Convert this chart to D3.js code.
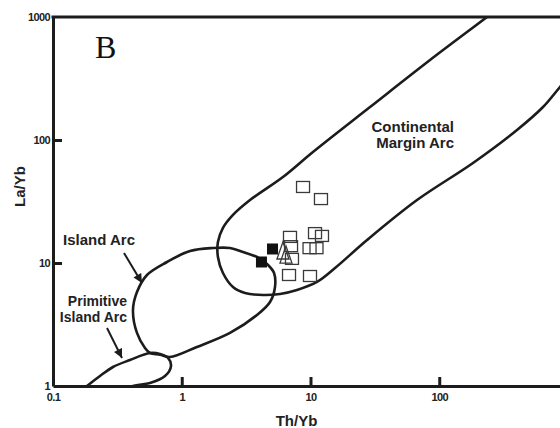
<!DOCTYPE html>
<html>
<head>
<meta charset="utf-8">
<script src="https://cdn.jsdelivr.net/npm/d3@7/dist/d3.min.js"></script>
<style>
  html, body { margin: 0; padding: 0; background: #fff; }
  svg { display: block; }
  text { font-family: "Liberation Sans", Arial, Helvetica, sans-serif; }
</style>
</head>
<body>
<svg id="chart" width="560" height="428"></svg>
<script>
// ---------------- data ----------------
const xTicks = [0.1, 1, 10, 100];
const xTickLabels = ["0.1", "1", "10", "100"];
const yTicks = [1, 10, 100, 1000];
const yTickLabels = ["1", "10", "100", "1000"];

// sample points (Th/Yb, La/Yb)
const openSquares = [
  [8.75, 41.5], [12.06, 33.1], [6.93, 16.3], [7.06, 13.7], [7.18, 10.8],
  [10.84, 17.5], [12.28, 16.6], [9.83, 13.2], [11.13, 13.2],
  [6.81, 7.99], [9.91, 7.84]
];
const filledSquares = [[5.07, 13.0], [4.16, 10.19]];
const openTriangles = [[6.11, 12.52], [6.45, 11.6]];

// field boundaries (Th/Yb, La/Yb)
const continentalArc = [
  [296.5, 1206], [235, 1000], [84.8, 447], [29.0, 185.4], [10.45, 79.9],
  [6.11, 50.0], [3.39, 32.5], [2.50, 24.6], [2.09, 19.3], [1.91, 14.8],
  [1.91, 11.19], [2.09, 8.29], [2.50, 6.38], [3.10, 5.70], [4.28, 5.49],
  [5.80, 5.60], [7.85, 6.03], [11.23, 7.01], [15.5, 9.10], [27.5, 15.38],
  [67.2, 32.5], [182.9, 65.0], [401.7, 120.5], [639.7, 185.4], [866.7, 269.8],
  [1133, 370.7]
];
const islandArc = [
  [0.418, 4.15], [0.449, 5.81], [0.537, 7.99], [0.768, 10.19], [1.16, 12.52],
  [1.75, 13.24], [2.37, 13.24], [2.99, 12.29], [3.84, 11.19], [4.68, 9.63],
  [5.21, 8.29], [5.30, 6.38], [4.85, 4.82], [3.84, 3.78], [2.37, 2.70],
  [1.31, 2.075], [0.81, 1.72], [0.678, 1.80], [0.567, 1.855], [0.518, 2.04],
  [0.449, 2.70]
];
const primitiveArc = [
  [0.162, 0.894], [0.1837, 1], [0.2317, 1.206], [0.2924, 1.427], [0.3963, 1.627],
  [0.567, 1.855], [0.678, 1.82], [0.782, 1.69], [0.825, 1.454], [0.741, 1.206],
  [0.567, 1.058], [0.418, 1], [0.331, 0.894]
];

// annotation arrows (tail, head)
const islandArrow = [[0.356, 12.06], [0.491, 6.88]];
const primitiveArrow = [[0.2627, 2.96], [0.3436, 1.69]];

// annotation labels: [text, x, y, anchor]
const fieldLabels = [
  ["Island Arc", 0.4335, 14.0, "end"],
  ["Primitive", 0.3757, 4.47, "end"],
  ["Island Arc", 0.3757, 3.31, "end"],
  ["Continental", 130.2, 116.1, "end"],
  ["Margin Arc", 130.2, 86.1, "end"]
];
const panelLetter = ["B", 0.2118, 464];

// ---------------- drawing ----------------
const svg = d3.select("#chart");
const INK = "#1c1c1c";

const x = d3.scaleLog().domain([0.1, 1000]).range([53, 568]);
const y = d3.scaleLog().domain([1, 1000]).range([386, 17]);

svg.append("rect").attr("width", 560).attr("height", 428).attr("fill", "#fff");

const defs = svg.append("defs");
defs.append("clipPath").attr("id", "plotclip")
  .append("rect")
  .attr("x", x(0.1)).attr("y", y(1000))
  .attr("width", x(1000) - x(0.1)).attr("height", y(1) - y(1000));

defs.append("marker")
  .attr("id", "arrowhead")
  .attr("markerUnits", "userSpaceOnUse")
  .attr("viewBox", "0 0 10 10")
  .attr("refX", 10).attr("refY", 5)
  .attr("markerWidth", 10).attr("markerHeight", 9)
  .attr("orient", "auto")
  .append("path")
  .attr("d", "M0,0 L10,5 L0,10 Z")
  .attr("fill", INK);

const plot = svg.append("g").attr("clip-path", "url(#plotclip)");

const lineOpen = d3.line().x(d => x(d[0])).y(d => y(d[1])).curve(d3.curveCatmullRom.alpha(0.5));
const lineClosed = d3.line().x(d => x(d[0])).y(d => y(d[1])).curve(d3.curveCatmullRomClosed.alpha(0.5));

plot.append("path").attr("d", lineOpen(continentalArc))
  .attr("fill", "none").attr("stroke", INK).attr("stroke-width", 2.6).attr("stroke-linejoin", "round");
plot.append("path").attr("d", lineClosed(islandArc))
  .attr("fill", "none").attr("stroke", INK).attr("stroke-width", 2.6).attr("stroke-linejoin", "round");
plot.append("path").attr("d", lineOpen(primitiveArc))
  .attr("fill", "none").attr("stroke", INK).attr("stroke-width", 2.6).attr("stroke-linejoin", "round");

// arrows
[islandArrow, primitiveArrow].forEach(a => {
  svg.append("line")
    .attr("x1", x(a[0][0])).attr("y1", y(a[0][1]))
    .attr("x2", x(a[1][0])).attr("y2", y(a[1][1]))
    .attr("stroke", INK).attr("stroke-width", 2)
    .attr("marker-end", "url(#arrowhead)");
});

// points
const SQW = 13, SQH = 11, FSQ = 11;
plot.selectAll("rect.open").data(openSquares).join("rect")
  .attr("class", "open")
  .attr("x", d => x(d[0]) - SQW / 2).attr("y", d => y(d[1]) - SQH / 2)
  .attr("width", SQW).attr("height", SQH)
  .attr("fill", "none").attr("stroke", "#3a3a3a").attr("stroke-width", 1.3);

plot.selectAll("path.tri").data(openTriangles).join("path")
  .attr("class", "tri")
  .attr("d", d => {
    const cx = x(d[0]), cy = y(d[1]);
    return `M${cx},${cy - 9} L${cx + 6},${cy + 8} L${cx - 6},${cy + 8} Z`;
  })
  .attr("fill", "none").attr("stroke", "#3a3a3a").attr("stroke-width", 1.3);

plot.selectAll("rect.filled").data(filledSquares).join("rect")
  .attr("class", "filled")
  .attr("x", d => x(d[0]) - FSQ / 2).attr("y", d => y(d[1]) - FSQ / 2)
  .attr("width", FSQ).attr("height", FSQ)
  .attr("fill", "#111");

// axes
const xAxis = d3.axisBottom(x).tickValues(xTicks)
  .tickFormat((d, i) => xTickLabels[i]).tickSizeInner(-9).tickSizeOuter(0).tickPadding(7);
const yAxis = d3.axisLeft(y).tickValues(yTicks)
  .tickFormat((d, i) => yTickLabels[i]).tickSizeInner(-9).tickSizeOuter(0).tickPadding(3);

const gx = svg.append("g").attr("transform", `translate(0,${y(1)})`).call(xAxis);
const gy = svg.append("g").attr("transform", `translate(${x(0.1)},0)`).call(yAxis);

[gx, gy].forEach(g => {
  g.select(".domain").attr("stroke", INK).attr("stroke-width", 3);
  g.selectAll(".tick line").attr("stroke", INK).attr("stroke-width", 3);
  g.selectAll(".tick text")
    .attr("fill", "#222")
    .style("font-family", '"Liberation Sans", Arial, sans-serif')
    .style("font-size", "11px").style("font-weight", "bold")
    .style("letter-spacing", "-0.6px");
});
// hide tick marks that sit on the corner
gx.selectAll(".tick").filter(d => d === 0.1).select("line").remove();
gy.selectAll(".tick").filter(d => d === 1 || d === 1000).select("line").remove();

// top frame
svg.append("line")
  .attr("x1", x(0.1) - 1.5).attr("x2", x(1000))
  .attr("y1", y(1000)).attr("y2", y(1000))
  .attr("stroke", INK).attr("stroke-width", 3);

// axis titles
svg.append("text")
  .attr("x", (x(0.1) + 540) / 2).attr("y", 426)
  .attr("text-anchor", "middle")
  .style("font-size", "15px").style("font-weight", "bold").attr("fill", "#222")
  .text("Th/Yb");
svg.append("text")
  .attr("transform", `translate(25,${(y(1) + y(1000)) / 2 - 15}) rotate(-90)`)
  .attr("text-anchor", "middle")
  .style("font-size", "15px").style("font-weight", "bold").attr("fill", "#222")
  .text("La/Yb");

// field labels
svg.selectAll("text.field").data(fieldLabels).join("text")
  .attr("class", "field")
  .attr("x", d => x(d[1])).attr("y", d => y(d[2]))
  .attr("text-anchor", d => d[3])
  .style("font-size", (d, i) => (i === 1 || i === 2) ? "14px" : "15px")
  .style("font-weight", "bold").attr("fill", "#222")
  .text(d => d[0]);

// panel letter
svg.append("text")
  .attr("x", x(panelLetter[1])).attr("y", y(panelLetter[2]))
  .style("font-family", '"Liberation Serif", "Times New Roman", serif')
  .style("font-size", "32px").attr("fill", "#111")
  .text(panelLetter[0]);
</script>
</body>
</html>
